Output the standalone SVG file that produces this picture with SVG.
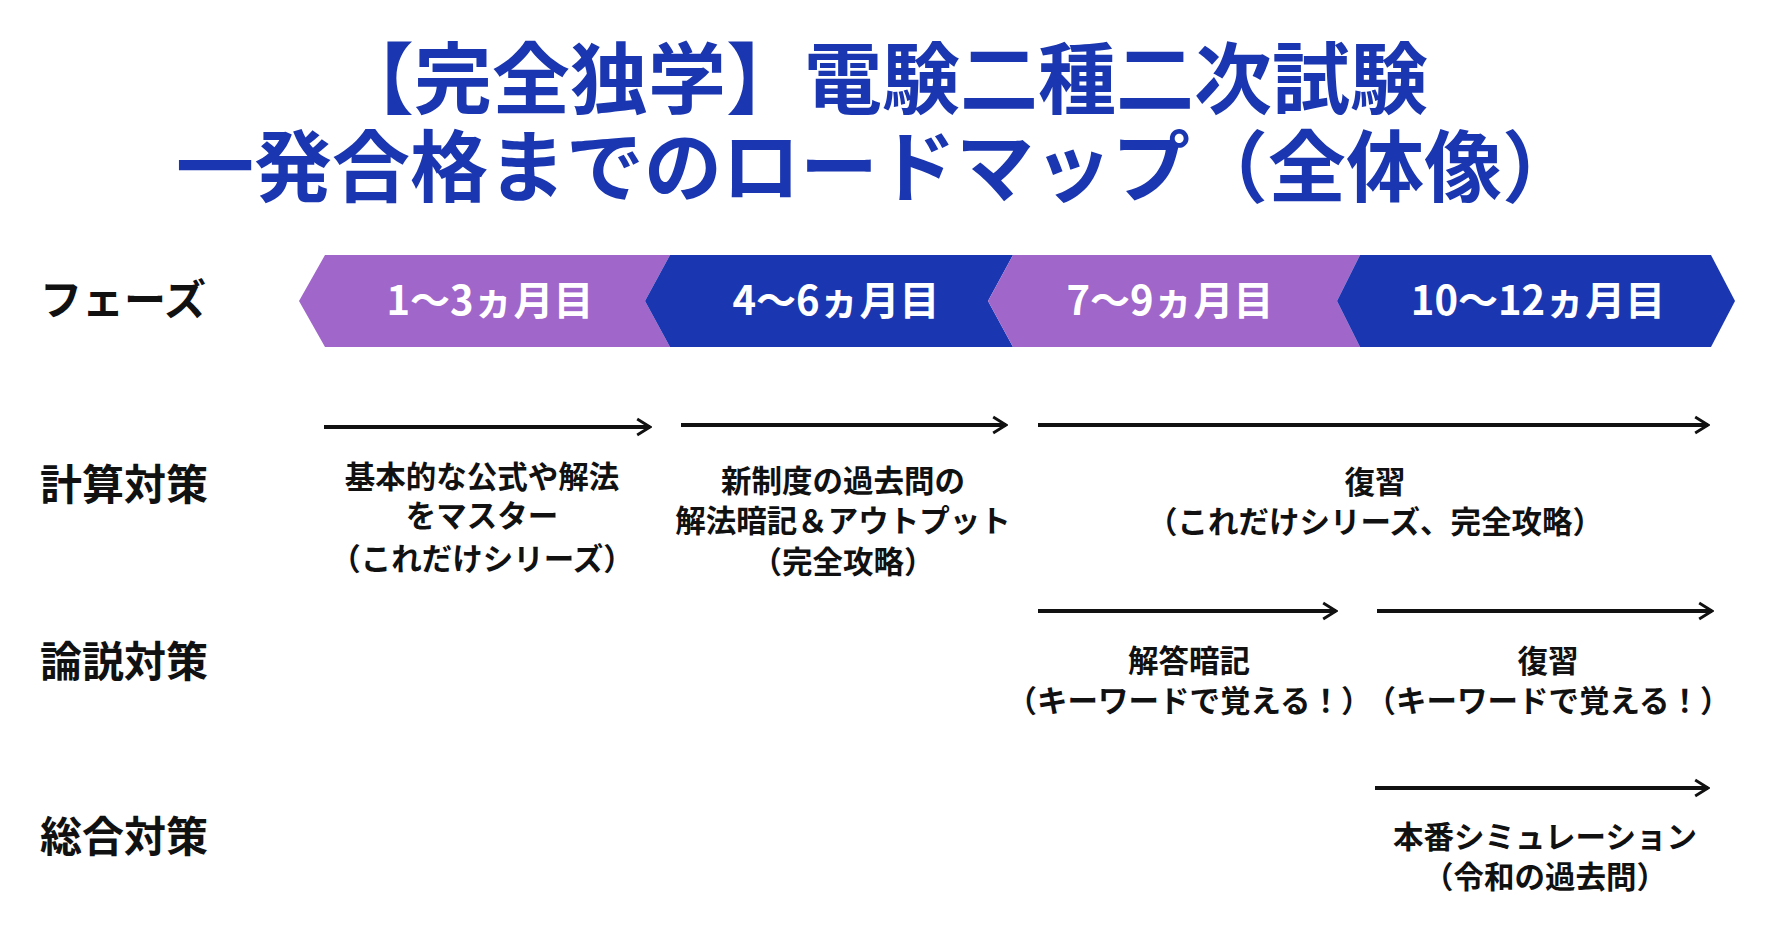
<svg xmlns="http://www.w3.org/2000/svg" width="1770" height="926" viewBox="0 0 1770 926">
<defs>
<style>
text{font-family:"Noto Sans CJK JP","Noto Sans",sans-serif;font-weight:700;}
.t{fill:#1a36b0;font-size:78px;text-anchor:middle;}
.ph{fill:#fff;font-size:40px;text-anchor:middle;}
.rl{fill:#111;font-size:42px;}
.d{fill:#111;font-size:30.5px;text-anchor:middle;}
.a{stroke:#111;stroke-width:4;fill:none;marker-end:url(#ah);}
</style>
<marker id="ah" viewBox="0 0 10 10" refX="9" refY="5" markerWidth="4" markerHeight="6" orient="auto" markerUnits="strokeWidth"><path d="M1,0 L9,5 L1,10" fill="none" stroke="#111" stroke-width="1.8"/></marker>
</defs>
<rect width="1770" height="926" fill="#fff"/>
<g id="title">
<text class="t" x="882" y="108">【完全独学】電験二種二次試験</text>
<text class="t" x="878" y="196">一発合格までのロードマップ（全体像）</text>
</g>
<g id="phases">
<polygon points="325,255 670,255 645,301 670,347 325,347 299,301" fill="#a066c9"/>
<polygon points="670,255 1013,255 988,301 1013,347 670,347 645,301" fill="#1a36b0"/>
<polygon points="1013,255 1360,255 1337,301 1360,347 1013,347 988,301" fill="#a066c9"/>
<polygon points="1360,255 1711,255 1735,301 1711,347 1360,347 1337,301" fill="#1a36b0"/>
<text class="ph" x="490" y="315">1〜3ヵ月目</text>
<text class="ph" x="836" y="315">4〜6ヵ月目</text>
<text class="ph" x="1170" y="315">7〜9ヵ月目</text>
<text class="ph" x="1538" y="315">10〜12ヵ月目</text>
</g>
<g id="labels">
<text class="rl" x="40" y="315">フェーズ</text>
<text class="rl" x="40" y="500">計算対策</text>
<text class="rl" x="40" y="677">論説対策</text>
<text class="rl" x="40" y="852">総合対策</text>
</g>
<g id="connectors">
<line class="a" x1="324" y1="427" x2="650" y2="427"/>
<line class="a" x1="681" y1="425" x2="1006" y2="425"/>
<line class="a" x1="1038" y1="425" x2="1708" y2="425"/>
<line class="a" x1="1038" y1="611" x2="1336" y2="611"/>
<line class="a" x1="1377" y1="611" x2="1712" y2="611"/>
<line class="a" x1="1375" y1="788" x2="1708" y2="788"/>
</g>
<g id="calc1"><text class="d" x="482" y="488">基本的な公式や解法</text><text class="d" x="482" y="527">をマスター</text><text class="d" x="482" y="570">（これだけシリーズ）</text></g>
<g id="calc2"><text class="d" x="843" y="492">新制度の過去問の</text><text class="d" x="843" y="532">解法暗記＆アウトプット</text><text class="d" x="843" y="573">（完全攻略）</text></g>
<g id="calc3"><text class="d" x="1375" y="493">復習</text><text class="d" x="1375" y="533">（これだけシリーズ、完全攻略）</text></g>
<g id="ron1"><text class="d" x="1189" y="672">解答暗記</text><text class="d" x="1189" y="712">（キーワードで覚える！）</text></g>
<g id="ron2"><text class="d" x="1548" y="672">復習</text><text class="d" x="1548" y="712">（キーワードで覚える！）</text></g>
<g id="sogo"><text class="d" x="1545" y="848">本番シミュレーション</text><text class="d" x="1545" y="888">（令和の過去問）</text></g>
</svg>
